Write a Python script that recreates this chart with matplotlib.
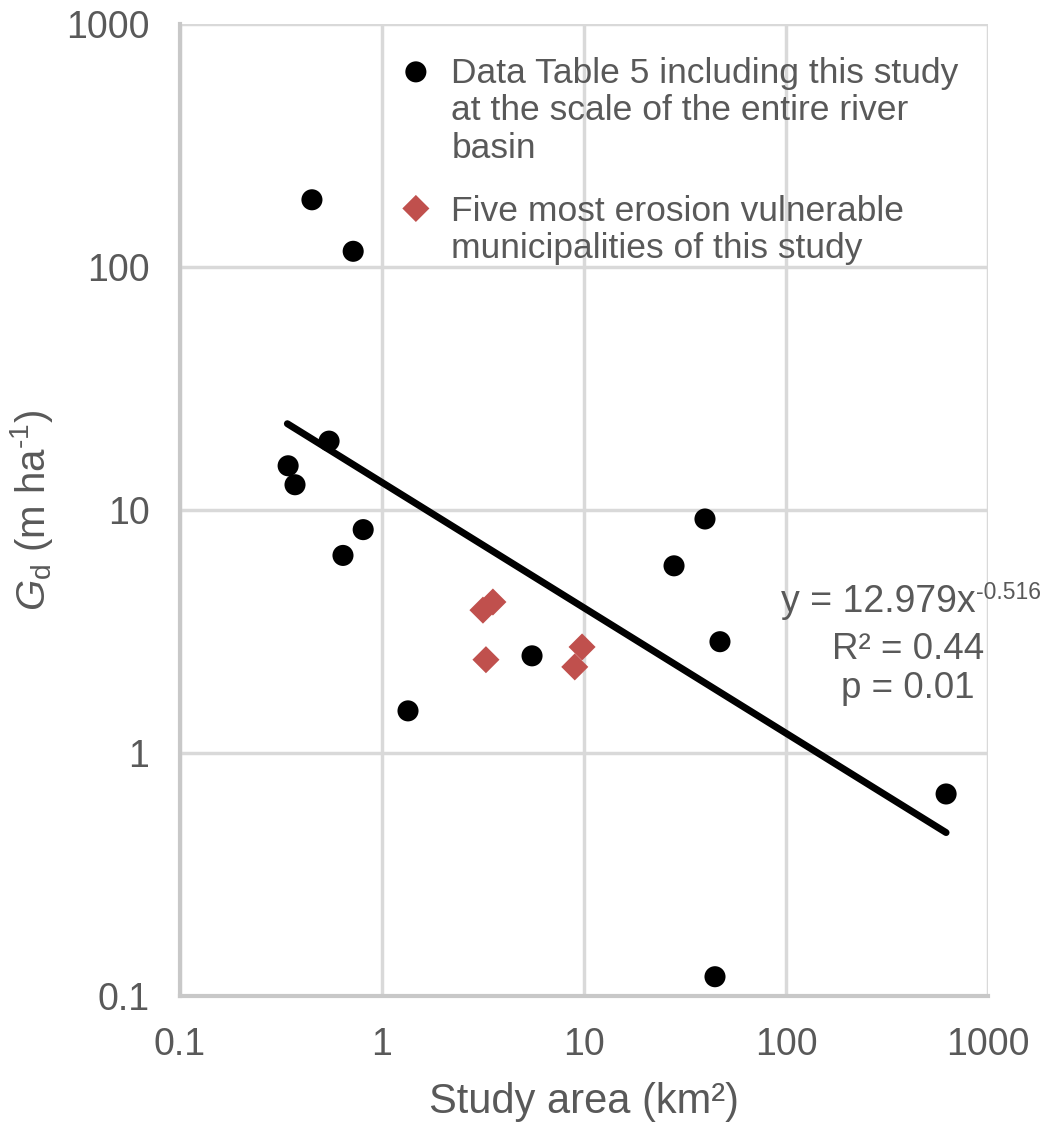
import numpy as np
import matplotlib.pyplot as plt
from matplotlib.legend_handler import HandlerPathCollection

plt.rcParams['font.family'] = ['Liberation Sans', 'DejaVu Sans']
plt.rcParams['mathtext.fontset'] = 'custom'
plt.rcParams['mathtext.rm'] = 'Liberation Sans'
plt.rcParams['mathtext.it'] = 'Liberation Sans:italic'

# black dots: data table 5 incl. this study (whole basin)
area_all = [0.45, 0.72, 0.547, 0.343, 0.371, 0.807, 0.641, 1.345, 5.53, 27.9, 39.7, 47.1, 44.5, 620]
gd_all = [189, 116, 19.2, 15.2, 12.7, 8.3, 6.5, 1.49, 2.51, 5.89, 9.18, 2.87, 0.12, 0.678]

# red diamonds: five most erosion vulnerable municipalities
area_mun = [3.16, 3.54, 3.27, 9.0, 9.78]
gd_mun = [3.87, 4.18, 2.42, 2.26, 2.73]

# power trendline from the chart
coef_a = 12.979
coef_b = -0.516
x_fit_range = [0.34, 620]

text_col = '#595959'

fig = plt.figure(figsize=(10.44, 11.25), dpi=100)
ax = fig.add_axes([0.1724, 0.1147, 0.774, 0.864])

ax.set_xscale('log')
ax.set_yscale('log')
ax.set_xlim(0.1, 1000)
ax.set_ylim(0.1, 1000)

ax.grid(True, which='major', color='#d9d9d9', lw=2.5, zorder=0)
ax.minorticks_off()
ax.set_axisbelow(True)

xf = np.logspace(np.log10(x_fit_range[0]), np.log10(x_fit_range[1]), 200)
ax.plot(xf, coef_a * xf ** coef_b, color='black', lw=5, solid_capstyle='round', zorder=3)

dots = ax.scatter(area_all, gd_all, s=230, color='black', edgecolors='none', zorder=4,
                  label='Data Table 5 including this study\nat the scale of the entire river\nbasin')
dias = ax.scatter(area_mun, gd_mun, s=190, marker='D', color='#c0504d', edgecolors='none', zorder=4,
                  label='Five most erosion vulnerable\nmunicipalities of this study')

for s in ['top', 'right']:
    ax.spines[s].set_visible(False)
for s in ['left', 'bottom']:
    ax.spines[s].set_color('#c8c8c8')
    ax.spines[s].set_linewidth(3)

ticks = [0.1, 1, 10, 100, 1000]
tick_labels = ['0.1', '1', '10', '100', '1000']
ax.set_xticks(ticks)
ax.set_xticklabels(tick_labels)
ax.set_yticks(ticks)
ax.set_yticklabels(tick_labels)
ax.tick_params(length=0, labelsize=27, labelcolor=text_col)
ax.tick_params(axis='x', pad=22)
ax.tick_params(axis='y', pad=22)

ax.set_xlabel('Study area (km²)', fontsize=30, color=text_col, labelpad=14)
ax.set_ylabel(r'$G_\mathregular{d}$ (m ha$^{\text{-}1}$)', fontsize=29, color=text_col)
ax.yaxis.set_label_coords(-0.155, 0.5)

ax.text(870, 4.18, 'y = 12.979x', fontsize=27, color=text_col,
        ha='right', va='center', zorder=5)
ax.annotate('-0.516', xy=(870, 4.18), xytext=(0, 7), textcoords='offset points',
            fontsize=16.5, color=text_col, ha='left', va='center', zorder=5)
ax.text(400, 2.22, 'R² = 0.44\np = 0.01', fontsize=26.5, color=text_col,
        ha='center', va='center', linespacing=1.15, zorder=5)

leg = ax.legend(loc='upper left', bbox_to_anchor=(0.27, 0.966), frameon=False, fontsize=25.5,
                labelcolor=text_col, handlelength=1.0, handletextpad=0.5, labelspacing=0.85,
                borderaxespad=0, borderpad=0,
                handler_map={dots: HandlerPathCollection(yoffsets=[2.1]),
                             dias: HandlerPathCollection(yoffsets=[1.4])})
for t in leg.get_texts():
    t.set_linespacing(1.17)

fig.savefig('out.png', dpi=100)
